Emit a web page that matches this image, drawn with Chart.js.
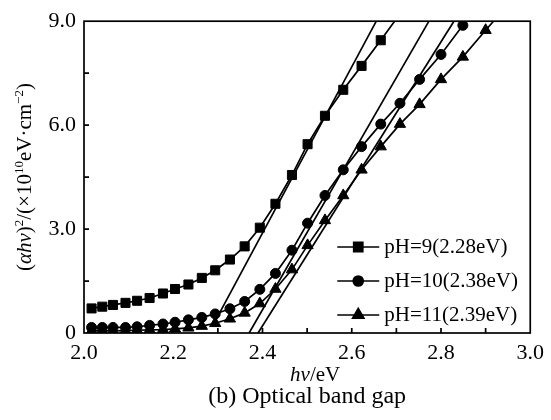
<!DOCTYPE html>
<html>
<head>
<meta charset="utf-8">
<script src="https://cdn.jsdelivr.net/npm/chart.js@4/dist/chart.umd.min.js"></script>
<style>
  html, body { margin: 0; padding: 0; background: #fff; }
  #wrap { width: 551px; height: 420px; }
</style>
</head>
<body>
<div id="wrap"><canvas id="bandGapChart" width="551" height="420"></canvas></div>
<script>
// photon energy hv (eV) of the measured points
const hv = [2.017, 2.041, 2.065, 2.093, 2.119, 2.147, 2.177, 2.204, 2.234, 2.264, 2.294, 2.327, 2.360, 2.394,
  2.429, 2.466, 2.501, 2.540, 2.581, 2.622, 2.665, 2.708, 2.752, 2.800, 2.849, 2.900, 2.955];

// (αhv)^2 in 10^10 eV·cm^-2
const pH9 = [0.71, 0.76, 0.81, 0.87, 0.93, 1.01, 1.14, 1.27, 1.40, 1.59, 1.81, 2.12, 2.50, 3.04,
  3.73, 4.56, 5.45, 6.27, 7.02, 7.71, 8.45, 9.21];
const pH10 = [0.16, 0.16, 0.16, 0.16, 0.18, 0.22, 0.26, 0.31, 0.38, 0.45, 0.55, 0.70, 0.91, 1.26,
  1.72, 2.39, 3.17, 3.97, 4.71, 5.38, 6.03, 6.63, 7.32, 8.04, 8.88];
const pH11 = [0.06, 0.06, 0.06, 0.07, 0.08, 0.09, 0.10, 0.12, 0.15, 0.20, 0.28, 0.41, 0.58, 0.85,
  1.27, 1.83, 2.53, 3.25, 3.97, 4.71, 5.38, 6.03, 6.60, 7.32, 7.97, 8.74, 9.55];

const seriesLabels = ['pH=9(2.28eV)', 'pH=10(2.38eV)', 'pH=11(2.39eV)'];

// linear fits (tangent lines) start / end
const fitStartX = [2.288, 2.37, 2.39];
const fitStartY = [0.2, 0, 0];
const fitEndX = [2.655, 2.773, 2.829];
const fitEndY = [9, 9, 9];

const xMinorTicks = [2.1, 2.2, 2.3, 2.4, 2.5, 2.6, 2.7, 2.8, 2.9];
const yMinorTicks = [1.5, 3.0, 4.5, 6.0, 7.5];

const serif = "'Liberation Serif', 'Times New Roman', serif";

function toPoints(values) {
  return values.map((v, i) => ({ x: hv[i], y: v }));
}

function seriesDataset(label, values, style, radius) {
  return {
    label: label,
    data: toPoints(values),
    borderColor: '#000',
    backgroundColor: '#000',
    borderWidth: 1.7,
    pointStyle: style,
    pointRadius: radius,
    pointBorderWidth: 1,
    pointHoverRadius: radius,
    tension: 0
  };
}

const fitDatasets = fitStartX.map((x0, i) => ({
  label: '',
  isFit: true,
  data: [{ x: x0, y: fitStartY[i] }, { x: fitEndX[i], y: fitEndY[i] }],
  borderColor: '#000',
  borderWidth: 1.7,
  pointRadius: 0,
  fill: false
}));

// draw text made of pieces (italic / superscript)
function drawRich(ctx, parts, x, y, size) {
  const fontOf = p => (p.it ? 'italic ' : '') + (p.sup ? Math.round(size * 0.6) : size) + 'px ' + serif;
  let total = 0;
  parts.forEach(p => { ctx.font = fontOf(p); total += ctx.measureText(p.t).width; });
  let cx = x - total / 2;
  ctx.textAlign = 'left';
  ctx.textBaseline = 'alphabetic';
  parts.forEach(p => {
    ctx.font = fontOf(p);
    ctx.fillText(p.t, cx, y + (p.sup ? -size * 0.4 : 0));
    cx += ctx.measureText(p.t).width;
  });
}

const decorPlugin = {
  id: 'decor',
  afterDraw(chart) {
    const { ctx, chartArea: a, scales: { x, y } } = chart;
    ctx.save();
    ctx.strokeStyle = '#000';
    ctx.fillStyle = '#000';
    ctx.lineWidth = 1.7;
    ctx.strokeRect(a.left, a.top, a.right - a.left, a.bottom - a.top);

    // inward ticks
    ctx.beginPath();
    xMinorTicks.forEach(v => {
      const px = x.getPixelForValue(v);
      ctx.moveTo(px, a.bottom);
      ctx.lineTo(px, a.bottom - 5);
    });
    yMinorTicks.forEach(v => {
      const py = y.getPixelForValue(v);
      ctx.moveTo(a.left, py);
      ctx.lineTo(a.left + 5, py);
    });
    ctx.stroke();

    // legend
    chart.data.datasets.filter(d => !d.isFit).forEach((d, i) => {
      const rowY = a.bottom - 86 + i * 34;
      ctx.beginPath();
      ctx.lineWidth = 1.7;
      ctx.moveTo(a.right - 193, rowY);
      ctx.lineTo(a.right - 151, rowY);
      ctx.stroke();
      if (Chart.helpers && Chart.helpers.drawPoint) {
        Chart.helpers.drawPoint(ctx, { pointStyle: d.pointStyle, radius: d.pointRadius, rotation: 0, borderWidth: 1 }, a.right - 172, rowY);
      }
      ctx.font = '21px ' + serif;
      ctx.textAlign = 'left';
      ctx.textBaseline = 'middle';
      ctx.fillText(d.label, a.right - 146, rowY);
    });

    // axis titles
    const midX = (a.left + a.right) / 2;
    drawRich(ctx, [{ t: 'hv', it: true }, { t: '/eV' }], midX + 8, a.bottom + 48, 21);
    drawRich(ctx, [{ t: '(b) Optical band gap' }], midX, a.bottom + 70, 24);

    ctx.translate(31, (a.top + a.bottom) / 2);
    ctx.rotate(-Math.PI / 2);
    drawRich(ctx, [
      { t: '(' }, { t: 'αhv', it: true }, { t: ')' }, { t: '2', sup: true },
      { t: '/(×10' }, { t: '10', sup: true }, { t: 'eV·cm' }, { t: '−2', sup: true }, { t: ')' }
    ], 0, 0, 21);
    ctx.restore();
  }
};

new Chart(document.getElementById('bandGapChart').getContext('2d'), {
  type: 'line',
  data: {
    datasets: [
      seriesDataset(seriesLabels[0], pH9, 'rect', 6.4),
      seriesDataset(seriesLabels[1], pH10, 'circle', 5),
      seriesDataset(seriesLabels[2], pH11, 'triangle', 6.5),
      ...fitDatasets
    ]
  },
  options: {
    responsive: false,
    animation: false,
    layout: { padding: { left: 0, top: 20, right: 18, bottom: 55 } },
    plugins: { legend: { display: false }, tooltip: { enabled: false } },
    scales: {
      x: {
        type: 'linear',
        min: 2.0,
        max: 3.0,
        grid: { display: false, drawTicks: false },
        border: { display: false },
        ticks: {
          stepSize: 0.2,
          padding: 7,
          color: '#000',
          font: { family: serif, size: 22 },
          callback: v => v.toFixed(1)
        },
        afterFit: s => { s.height = 32; }
      },
      y: {
        min: 0,
        max: 9,
        grid: { display: false, drawTicks: false },
        border: { display: false },
        ticks: {
          stepSize: 3,
          padding: 8,
          color: '#000',
          font: { family: serif, size: 22 },
          callback: v => (v === 0 ? '0' : v.toFixed(1))
        },
        afterFit: s => { s.width = 84; }
      }
    }
  },
  plugins: [decorPlugin]
});
</script>
</body>
</html>
